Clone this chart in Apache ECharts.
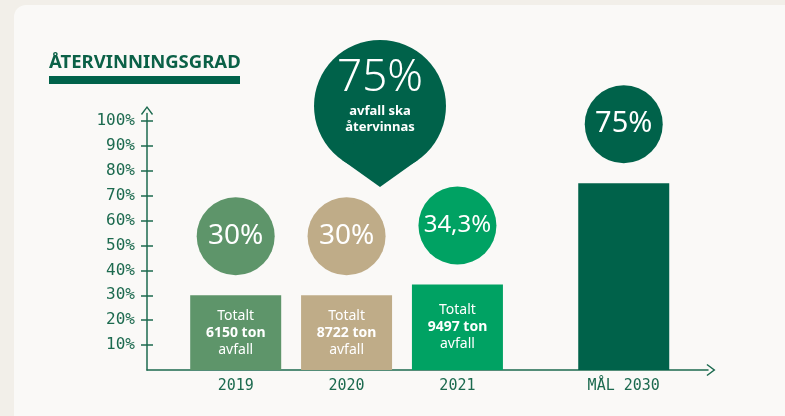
<!DOCTYPE html>
<html>
<head>
<meta charset="utf-8">
<script src="https://cdn.jsdelivr.net/npm/echarts@6/dist/echarts.min.js"></script>
<style>
  html, body { margin: 0; padding: 0; width: 785px; height: 416px; overflow: hidden; background: #f2efe9; }
  #card { position: absolute; left: 14px; top: 5px; width: 900px; height: 500px; border-radius: 12px; background: #faf9f7; }
  #chart { position: absolute; left: 0; top: 0; width: 785px; height: 416px; }
</style>
</head>
<body>
<div id="card"></div>
<div id="chart"></div>
<script>
// ---- data ----
const categories = ['2019', '2020', '2021', 'MÅL 2030'];
const xPositions = [0, 1, 2, 3.5];            // 2030 goal set apart from the yearly bars
const rates = [30, 30, 34.3, 75];             // återvinningsgrad, %
const rateLabels = ['30%', '30%', '34,3%', '75%'];
const tonnes = ['6150 ton', '8722 ton', '9497 ton', null];
const barColors = ['#5e956a', '#bfac88', '#00a263', '#00624a'];
const yTicks = [10, 20, 30, 40, 50, 60, 70, 80, 90, 100];
const titleText = 'ÅTERVINNINGSGRAD';
const goalText = ['75%', 'avfall ska', 'återvinnas'];

const green = '#00624a';
const axisColor = '#1c6a4f';
const chevron = 'path://M0,8 L6,0 L12,8 L10.9,8.9 L6,2.3 L1.1,8.9 Z';

const chart = echarts.init(document.getElementById('chart'), null, { renderer: 'canvas' });

const circleData = rates.map((v, i) => ({
  value: [xPositions[i], v],
  itemStyle: { color: barColors[i] },
  label: {
    formatter: rateLabels[i],
    backgroundColor: barColors[i],
    fontSize: rateLabels[i].length > 3 ? 24 : (i === 3 ? 29 : 28)
  }
}));

const innerData = rates.map((v, i) => ({
  value: [xPositions[i], v],
  label: {
    show: tonnes[i] !== null,
    formatter: tonnes[i] ? '{n|Totalt}\n{b|' + tonnes[i] + '}\n{n|avfall}' : ''
  }
}));

const option = {
  backgroundColor: 'transparent',
  animation: false,
  title: {
    text: titleText,
    left: 49,
    top: 53,
    padding: 0,
    textStyle: { fontFamily: 'Noto Sans', fontWeight: 'bold', fontSize: 18.5, color: '#0b6147' }
  },
  grid: { left: 147, right: 77, top: 113.5, bottom: 46, containLabel: false },
  xAxis: {
    type: 'value',
    min: -0.8,
    max: 4.26,
    splitLine: { show: false },
    axisTick: { show: false },
    axisLine: {
      show: true,
      onZero: false,
      symbol: ['none', chevron],
      symbolSize: [13, 9],
      symbolOffset: [0, 3],
      lineStyle: { color: axisColor, width: 1.5 }
    },
    axisLabel: {
      customValues: xPositions,
      formatter: (v) => { const i = xPositions.indexOf(v); return i >= 0 ? categories[i] : ''; },
      margin: 9,
      color: axisColor,
      fontFamily: 'DejaVu Sans Mono',
      fontSize: 15
    }
  },
  yAxis: [{
    type: 'value',
    min: 0,
    max: 103,
    splitLine: { show: false },
    axisLine: {
      show: true,
      onZero: false,
      symbol: ['none', chevron],
      symbolSize: [13, 9],
      symbolOffset: [0, 3],
      lineStyle: { color: axisColor, width: 1.5 }
    },
    axisTick: { show: true, customValues: yTicks, length: 6, lineStyle: { color: axisColor, width: 1.5 } },
    axisLabel: {
      customValues: yTicks,
      formatter: '{value}%',
      margin: 12,
      color: axisColor,
      fontFamily: 'DejaVu Sans Mono',
      fontSize: 16
    }
  }, {
    type: 'value',
    position: 'left',
    min: 0,
    max: 103,
    splitLine: { show: false },
    axisLine: { show: false, onZero: false },
    axisTick: { show: true, inside: true, customValues: yTicks, length: 6, lineStyle: { color: axisColor, width: 1.5 } },
    axisLabel: { show: false }
  }],
  series: [{
    type: 'bar',
    name: 'rate',
    barWidth: 91,
    barGap: '-100%',
    data: circleData,
    label: {
      show: true,
      position: 'top',
      distance: 20,
      width: 78,
      height: 78,
      lineHeight: 78,
      borderRadius: 39,
      align: 'center',
      color: '#ffffff',
      fontFamily: 'Noto Sans',
      fontWeight: 'normal'
    }
  }, {
    type: 'bar',
    name: 'tonnes',
    barWidth: 91,
    barGap: '-100%',
    itemStyle: { color: 'rgba(0,0,0,0)' },
    data: innerData,
    label: {
      show: true,
      position: 'inside',
      color: '#ffffff',
      align: 'center',
      rich: {
        n: { fontFamily: 'Noto Sans', fontSize: 14, lineHeight: 17, color: '#ffffff' },
        b: { fontFamily: 'Noto Sans', fontSize: 14, fontWeight: 'bold', lineHeight: 17, color: '#ffffff' }
      }
    }
  }],
  graphic: [
    { type: 'rect', left: 49, top: 76, shape: { width: 191, height: 8 }, style: { fill: green } },
    {
      type: 'group',
      children: [
        { type: 'circle', shape: { cx: 380, cy: 106, r: 66 }, style: { fill: green } },
        { type: 'polygon', shape: { points: [[380, 106], [341.8, 159.8], [380, 187], [418.2, 159.8]] }, style: { fill: green } },
        { type: 'text', x: 380, y: 78, style: { text: goalText[0], fill: '#fff', font: '300 44px "Noto Sans"', align: 'center', verticalAlign: 'middle' } },
        { type: 'text', x: 380, y: 111, style: { text: goalText[1], fill: '#fff', font: 'bold 13px "Noto Sans"', align: 'center', verticalAlign: 'middle' } },
        { type: 'text', x: 380, y: 127, style: { text: goalText[2], fill: '#fff', font: 'bold 13px "Noto Sans"', align: 'center', verticalAlign: 'middle' } }
      ]
    }
  ]
};
chart.setOption(option);
</script>
</body>
</html>
